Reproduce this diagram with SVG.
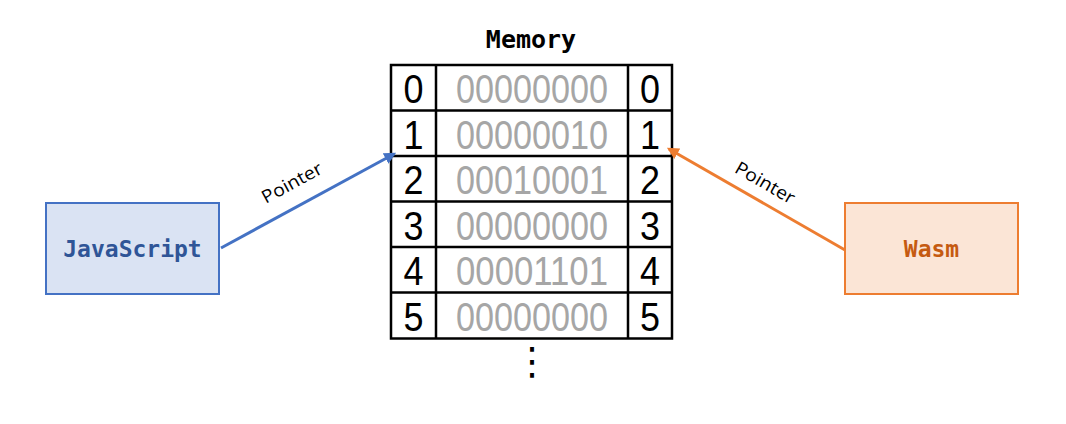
<svg xmlns="http://www.w3.org/2000/svg" width="1066" height="424" viewBox="0 0 1066 424">
<style>
.cell{fill:none;stroke:#000;stroke-width:2.5}
.idx{font-family:"Liberation Sans",Arial,sans-serif;font-size:40px;fill:#000;text-anchor:middle}
.bits{font-family:"Liberation Sans",Arial,sans-serif;font-size:40px;fill:#A6A6A6;text-anchor:middle}
.mono{font-family:"DejaVu Sans Mono","Liberation Mono",monospace;font-weight:bold;text-anchor:middle}
.lbl{font-family:"Open Sans","Liberation Sans",sans-serif;font-size:18px;fill:#000;text-anchor:middle}
</style>
<defs>
<marker id="ab" viewBox="0 0 10 10" refX="8" refY="5" markerWidth="4" markerHeight="4" orient="auto" markerUnits="strokeWidth"><path d="M0,0 L10,5 L0,10 z" fill="#4472C4"/></marker>
<marker id="ao" viewBox="0 0 10 10" refX="8" refY="5" markerWidth="4" markerHeight="4" orient="auto" markerUnits="strokeWidth"><path d="M0,0 L10,5 L0,10 z" fill="#ED7D31"/></marker>
</defs>
<rect width="1066" height="424" fill="#fff"/>
<g id="memory">
<text class="mono" x="531" y="48" font-size="25" fill="#000">Memory</text>
<rect class="cell" x="391" y="65" width="281" height="273.5"/>
<g stroke="#000" stroke-width="2.5">
<line x1="436" y1="65" x2="436" y2="338.5"/>
<line x1="628" y1="65" x2="628" y2="338.5"/>
<line x1="391" y1="110.5" x2="672" y2="110.5"/>
<line x1="391" y1="156" x2="672" y2="156"/>
<line x1="391" y1="201.5" x2="672" y2="201.5"/>
<line x1="391" y1="247" x2="672" y2="247"/>
<line x1="391" y1="292.5" x2="672" y2="292.5"/>
</g>
<g>
<text class="idx" x="413.5" y="103" textLength="20" lengthAdjust="spacingAndGlyphs">0</text>
<text class="bits" x="532" y="103" textLength="152" lengthAdjust="spacingAndGlyphs">00000000</text>
<text class="idx" x="650" y="103" textLength="20" lengthAdjust="spacingAndGlyphs">0</text>
<text class="idx" x="413.5" y="148.5" textLength="20" lengthAdjust="spacingAndGlyphs">1</text>
<text class="bits" x="532" y="148.5" textLength="152" lengthAdjust="spacingAndGlyphs">00000010</text>
<text class="idx" x="650" y="148.5" textLength="20" lengthAdjust="spacingAndGlyphs">1</text>
<text class="idx" x="413.5" y="194" textLength="20" lengthAdjust="spacingAndGlyphs">2</text>
<text class="bits" x="532" y="194" textLength="152" lengthAdjust="spacingAndGlyphs">00010001</text>
<text class="idx" x="650" y="194" textLength="20" lengthAdjust="spacingAndGlyphs">2</text>
<text class="idx" x="413.5" y="239.5" textLength="20" lengthAdjust="spacingAndGlyphs">3</text>
<text class="bits" x="532" y="239.5" textLength="152" lengthAdjust="spacingAndGlyphs">00000000</text>
<text class="idx" x="650" y="239.5" textLength="20" lengthAdjust="spacingAndGlyphs">3</text>
<text class="idx" x="413.5" y="285" textLength="20" lengthAdjust="spacingAndGlyphs">4</text>
<text class="bits" x="532" y="285" textLength="152" lengthAdjust="spacingAndGlyphs">00001101</text>
<text class="idx" x="650" y="285" textLength="20" lengthAdjust="spacingAndGlyphs">4</text>
<text class="idx" x="413.5" y="330.5" textLength="20" lengthAdjust="spacingAndGlyphs">5</text>
<text class="bits" x="532" y="330.5" textLength="152" lengthAdjust="spacingAndGlyphs">00000000</text>
<text class="idx" x="650" y="330.5" textLength="20" lengthAdjust="spacingAndGlyphs">5</text>
</g>
<text x="532" y="374" font-family="DejaVu Sans,sans-serif" font-size="38" text-anchor="middle" fill="#000">⋮</text>
</g>
<g id="javascript">
<rect x="46" y="203" width="173" height="91" fill="#DAE3F3" stroke="#4472C4" stroke-width="2"/>
<text class="mono" x="132.5" y="257" font-size="23" fill="#2F5597">JavaScript</text>
</g>
<g id="wasm">
<rect x="845" y="203" width="173" height="91" fill="#FBE5D6" stroke="#ED7D31" stroke-width="2"/>
<text class="mono" x="931.5" y="257" font-size="23" fill="#C55A11">Wasm</text>
</g>
<g id="connectors">
<line x1="221" y1="248" x2="394" y2="154" stroke="#4472C4" stroke-width="3" marker-end="url(#ab)"/>
<text class="lbl" transform="translate(292,183) rotate(-28.5)" y="6" textLength="66" lengthAdjust="spacingAndGlyphs">Pointer</text>
<line x1="845" y1="250" x2="669" y2="149" stroke="#ED7D31" stroke-width="3" marker-end="url(#ao)"/>
<text class="lbl" transform="translate(765,183) rotate(29.8)" y="6" textLength="66" lengthAdjust="spacingAndGlyphs">Pointer</text>
</g>
</svg>
